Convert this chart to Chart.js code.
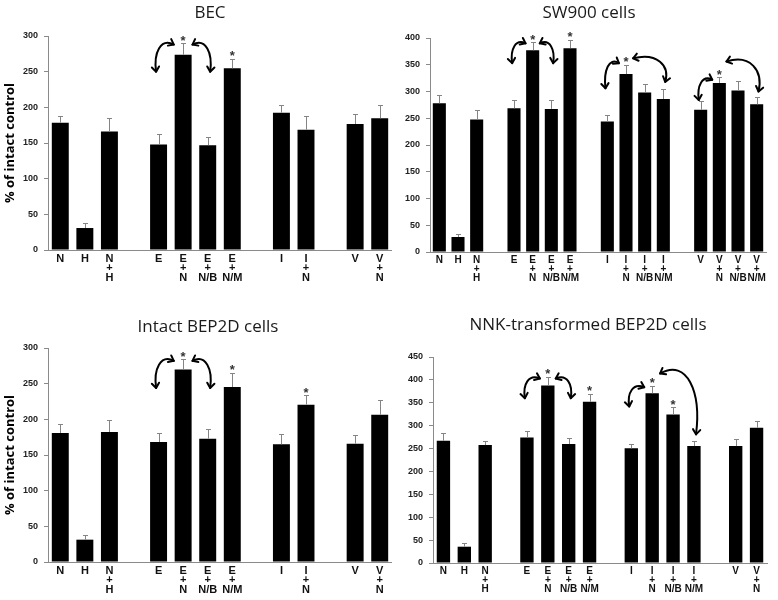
<!DOCTYPE html>
<html>
<head>
<meta charset="utf-8">
<script src="https://cdn.jsdelivr.net/npm/chart.js@4.4.1/dist/chart.umd.min.js"></script>
<style>
  html, body { margin: 0; padding: 0; background: #fff; }
  #page { position: relative; width: 778px; height: 600px; overflow: hidden; }
  .panel { position: absolute; }
  canvas { display: block; }
</style>
</head>
<body>
<div id="page">
  <div class="panel" style="left:0;top:0"><canvas id="chart-bec" width="392" height="300"></canvas></div>
  <div class="panel" style="left:392px;top:0"><canvas id="chart-sw900" width="386" height="300"></canvas></div>
  <div class="panel" style="left:0;top:300px"><canvas id="chart-intact" width="392" height="300"></canvas></div>
  <div class="panel" style="left:392px;top:300px"><canvas id="chart-nnk" width="386" height="300"></canvas></div>
</div>
<script>
// categories ('' = spacer between treatment groups)
const labelsShort = ['N', 'H', ['N', '+', 'H'], '', 'E', ['E', '+', 'N'], ['E', '+', 'N/B'], ['E', '+', 'N/M'], '',
  'I', ['I', '+', 'N'], '', 'V', ['V', '+', 'N']];
const labelsSw900 = ['N', 'H', ['N', '+', 'H'], '', 'E', ['E', '+', 'N'], ['E', '+', 'N/B'], ['E', '+', 'N/M'], '',
  'I', ['I', '+', 'N'], ['I', '+', 'N/B'], ['I', '+', 'N/M'], '', 'V', ['V', '+', 'N'], ['V', '+', 'N/B'], ['V', '+', 'N/M']];
const labelsNnk = ['N', 'H', ['N', '+', 'H'], '', 'E', ['E', '+', 'N'], ['E', '+', 'N/B'], ['E', '+', 'N/M'], '',
  'I', ['I', '+', 'N'], ['I', '+', 'N/B'], ['I', '+', 'N/M'], '', 'V', ['V', '+', 'N']];

// % of intact control (mean) and SE
const becValues = [178.5, 30.8, 166, null, 148, 273.8, 147, 254.7, null, 192.5, 168.7, null, 176.6, 184.6];
const becSE = [9.5, 7.1, 18.6, null, 14, 15.9, 12, 13.1, null, 11.2, 18.7, null, 14, 19.1];

const sw900Values = [278, 28, 247.5, null, 268.7, 376.9, 267.5, 381, null, 243.7, 332.5, 298, 286, null, 266, 316, 302, 276];
const sw900SE = [15.7, 5, 18, null, 15.3, 15, 16.5, 16, null, 12.3, 17.5, 16, 18, null, 16, 11, 18, 14.6];

const intactValues = [180.8, 31.3, 182.2, null, 168.2, 270, 172.9, 245.3, null, 165, 220.6, null, 165.9, 206.5];
const intactSE = [12.2, 7, 16.4, null, 13.1, 14, 13.1, 20.1, null, 15, 13, null, 12.6, 20.5];

const nnkValues = [267, 35.6, 257.6, null, 274.3, 387.5, 259.8, 352, null, 250.4, 370.8, 324.4, 255.4, null, 255.4, 295.4];
const nnkSE = [17.5, 7.9, 8.7, null, 13.7, 18.9, 12.2, 18, null, 10.6, 16.7, 15.9, 11.6, null, 14.6, 14.6];

// significance marks (category index)
const becStars = [5, 7];
const sw900Stars = [5, 7, 10, 15];
const intactStars = [5, 7, 10];
const nnkStars = [5, 7, 10, 11];

// comparison arrows: [from index, to index, value at upper end, value at lower end]
const becArrows = [[5, 4, 288, 250], [5, 6, 288, 250]];
const sw900Arrows = [[5, 4, 390, 353], [5, 6, 390, 353], [10, 9, 353, 306], [10, 12, 362, 318], [15, 14, 322, 284], [15, 17, 356, 300]];
const intactArrows = [[5, 4, 282, 244], [5, 6, 282, 244]];
const nnkArrows = [[5, 4, 403, 360], [5, 6, 403, 360], [10, 9, 384, 342], [10, 12, 414, 281]];

const TITLE_FONT = '"Open Sans", "Liberation Sans", sans-serif';
const TICK_FONT = '"Liberation Sans", Arial, sans-serif';
const AXIS_GREY = '#8a8a8a';

function arrowHead(ctx, tip, from, size) {
  const ang = Math.atan2(tip.y - from.y, tip.x - from.x);
  ctx.beginPath();
  ctx.moveTo(tip.x - size * Math.cos(ang - 0.65), tip.y - size * Math.sin(ang - 0.65));
  ctx.lineTo(tip.x, tip.y);
  ctx.lineTo(tip.x - size * Math.cos(ang + 0.65), tip.y - size * Math.sin(ang + 0.65));
  ctx.stroke();
}

function buildChart(id, cfg) {
  const canvas = document.getElementById(id);
  const W = canvas.width;
  const H = canvas.height;
  const area = cfg.area;

  const marks = {
    id: 'marks-' + id,
    afterDatasetsDraw(chart) {
      const ctx = chart.ctx;
      const y = chart.scales.y;
      const x = chart.scales.x;
      const meta = chart.getDatasetMeta(0);
      const slot = x.getPixelForValue(1) - x.getPixelForValue(0);

      // error bars (upper half only)
      ctx.save();
      ctx.strokeStyle = '#858585';
      ctx.lineWidth = 1;
      meta.data.forEach((bar, i) => {
        if (cfg.values[i] == null) return;
        const top = Math.round(y.getPixelForValue(cfg.values[i] + cfg.se[i])) + 0.5;
        const cx = Math.round(bar.x) + 0.5;
        ctx.beginPath();
        ctx.moveTo(cx, bar.y);
        ctx.lineTo(cx, top);
        ctx.moveTo(cx - 2.5, top);
        ctx.lineTo(cx + 2.5, top);
        ctx.stroke();
      });
      ctx.restore();

      // asterisks
      ctx.save();
      ctx.fillStyle = '#333';
      ctx.font = 'bold 13px ' + TICK_FONT;
      ctx.textAlign = 'center';
      ctx.textBaseline = 'alphabetic';
      cfg.stars.forEach((i) => {
        const top = y.getPixelForValue(cfg.values[i] + cfg.se[i]);
        ctx.fillText('*', meta.data[i].x, top + 1.5);
      });
      ctx.restore();

      // curved comparison arrows
      ctx.save();
      ctx.strokeStyle = '#000';
      ctx.lineWidth = 2;
      ctx.lineCap = 'round';
      ctx.lineJoin = 'round';
      cfg.arrows.forEach(([from, to, vTop, vLow]) => {
        const dir = to > from ? 1 : -1;
        const p0 = { x: x.getPixelForValue(from) + dir * 0.38 * slot, y: y.getPixelForValue(vTop) };
        const p3 = { x: x.getPixelForValue(to) + dir * 0.1 * slot, y: y.getPixelForValue(vLow) };
        const dx = p3.x - p0.x;
        const dy = p3.y - p0.y;
        const p1 = { x: p0.x + dx * 0.75, y: p0.y - 0.25 * dy };
        const p2 = { x: p3.x + dx * 0.15, y: p0.y + 0.3 * dy };
        ctx.beginPath();
        ctx.moveTo(p0.x, p0.y);
        ctx.bezierCurveTo(p1.x, p1.y, p2.x, p2.y, p3.x, p3.y);
        ctx.stroke();
        arrowHead(ctx, p0, p1, 6);
        arrowHead(ctx, p3, p2, 6);
      });
      ctx.restore();
    },
    afterDraw(chart) {
      const ctx = chart.ctx;
      ctx.save();
      ctx.fillStyle = '#1a1a1a';
      ctx.font = '17px ' + TITLE_FONT;
      ctx.textAlign = 'center';
      ctx.textBaseline = 'middle';
      ctx.fillText(cfg.title, cfg.titlePos[0], cfg.titlePos[1]);
      ctx.restore();
    }
  };

  return new Chart(canvas, {
    type: 'bar',
    data: {
      labels: cfg.labels,
      datasets: [{
        data: cfg.values,
        backgroundColor: '#000',
        borderWidth: 0,
        barPercentage: cfg.barPct,
        categoryPercentage: 1
      }]
    },
    options: {
      responsive: false,
      animation: false,
      layout: { padding: { top: area.top, right: W - area.right, left: 0, bottom: 0 } },
      plugins: { legend: { display: false }, tooltip: { enabled: false } },
      scales: {
        x: {
          grid: { display: false, drawTicks: false },
          border: { display: true, color: AXIS_GREY, width: 1 },
          ticks: {
            autoSkip: false, maxRotation: 0, minRotation: 0, padding: 4, color: '#111',
            font: { family: TICK_FONT, size: cfg.labelSize, weight: 'bold', lineHeight: cfg.labelLine }
          },
          afterFit: (s) => { s.height = H - area.bottom; }
        },
        y: {
          min: 0,
          max: cfg.yMax,
          ticks: { stepSize: 50, padding: 6, color: '#222', font: { family: TICK_FONT, size: 9, weight: 'bold' } },
          grid: { drawOnChartArea: false, drawTicks: true, tickLength: 4, color: AXIS_GREY },
          border: { display: true, color: AXIS_GREY, width: 1 },
          title: {
            display: !!cfg.yTitle,
            text: cfg.yTitle,
            color: '#000',
            padding: { top: 2, bottom: 0 },
            font: { family: TITLE_FONT, size: 13, weight: 'bold' }
          },
          afterFit: (s) => { s.width = area.left; }
        }
      }
    },
    plugins: [marks]
  });
}

buildChart('chart-bec', {
  labels: labelsShort, values: becValues, se: becSE, stars: becStars, arrows: becArrows,
  yMax: 300, title: 'BEC', titlePos: [210, 13], yTitle: '% of intact control',
  area: { left: 48, right: 392, top: 36, bottom: 250 }, barPct: 0.69, labelSize: 11, labelLine: 0.86
});
buildChart('chart-sw900', {
  labels: labelsSw900, values: sw900Values, se: sw900SE, stars: sw900Stars, arrows: sw900Arrows,
  yMax: 400, title: 'SW900 cells', titlePos: [197, 13], yTitle: '',
  area: { left: 38, right: 374, top: 38, bottom: 252 }, barPct: 0.7, labelSize: 10, labelLine: 0.88
});
buildChart('chart-intact', {
  labels: labelsShort, values: intactValues, se: intactSE, stars: intactStars, arrows: intactArrows,
  yMax: 300, title: 'Intact BEP2D cells', titlePos: [208, 27], yTitle: '% of intact control',
  area: { left: 48, right: 392, top: 48, bottom: 262 }, barPct: 0.69, labelSize: 11, labelLine: 0.86
});
buildChart('chart-nnk', {
  labels: labelsNnk, values: nnkValues, se: nnkSE, stars: nnkStars, arrows: nnkArrows,
  yMax: 450, title: 'NNK-transformed BEP2D cells', titlePos: [196, 25], yTitle: '',
  area: { left: 41, right: 375, top: 57, bottom: 263 }, barPct: 0.64, labelSize: 10, labelLine: 0.88
});
</script>
</body>
</html>
